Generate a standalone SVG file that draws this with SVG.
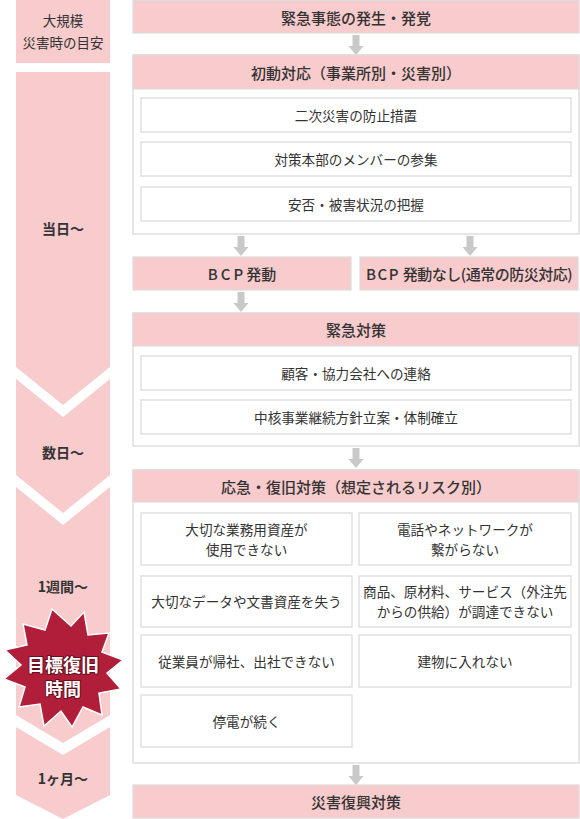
<svg xmlns="http://www.w3.org/2000/svg" width="580" height="819" viewBox="0 0 580 819">
<style>
text{font-family:"Noto Sans CJK JP","Noto Sans",sans-serif;fill:#333;text-anchor:middle;dominant-baseline:central}
.pink{fill:#f8cbcd}
.hdr{fill:#f8cbcd;stroke:#dcdcdc;stroke-width:1.2}
.frame{fill:#fff;stroke:#d6d6d6;stroke-width:1.2}
.item{fill:#fff;stroke:#d9d9d9;stroke-width:1.2}
.ht{font-size:15px;font-weight:500}
.it{font-size:13.6px}
.lt{font-size:14px;font-weight:700}
.arr{fill:#c9c9c9}
</style>
<defs>
<path id="ar" d="M-3.5,0 H3.5 V11 H7.5 L0,20 L-7.5,11 H-3.5 Z"/>
</defs>

<g id="timeline">
<rect class="pink" x="16" y="0" width="94" height="63"/>
<text x="63" y="20" style="font-size:13.5px">大規模</text>
<text x="63" y="42" style="font-size:13.5px">災害時の目安</text>
<path class="pink" d="M16,72 H110 V367 L63,405 L16,367 Z"/>
<text class="lt" x="63" y="228">当日～</text>
<path class="pink" d="M16,379 L63,417 L110,379 V475 L63,513 L16,475 Z"/>
<text class="lt" x="63" y="452">数日～</text>
<path class="pink" d="M16,487 L63,525 L110,487 V715 L63,743 L16,715 Z"/>
<text class="lt" x="63" y="586">1週間～</text>
<path class="pink" d="M16,727 L63,755 L110,727 V795 L63,819 L16,795 Z"/>
<text class="lt" x="63" y="778">1ヶ月～</text>
</g>

<g id="star">
<polygon fill="#b01e3a" stroke="#fff" stroke-width="1.5" points="52,609 71,626 84,612 88,635 109,633 102,652 123,660 107,673 121,689 99,693 102,715 83,707 72,727 61,711 44,726 40,704 19,707 25,687 4,679 21,665 5,650 27,645 23,624 45,630"/>
<text x="63" y="664" style="font-size:18px;font-weight:700;fill:#fff;stroke:#6a0f20;stroke-width:2;paint-order:stroke">目標復旧</text>
<text x="63" y="688" style="font-size:18px;font-weight:700;fill:#fff;stroke:#6a0f20;stroke-width:2;paint-order:stroke">時間</text>
</g>

<g id="connectors">
<use href="#ar" class="arr" x="356" y="35"/>
<use href="#ar" class="arr" x="241" y="236"/>
<use href="#ar" class="arr" x="470" y="236"/>
<use href="#ar" class="arr" x="241" y="292"/>
<use href="#ar" class="arr" x="356" y="448"/>
<use href="#ar" class="arr" x="356" y="765"/>
</g>

<g id="occurrence">
<rect class="hdr" x="133" y="0.6" width="446" height="32.4"/>
<text class="ht" x="356" y="17">緊急事態の発生・発覚</text>
</g>

<g id="initial">
<rect class="frame" x="133" y="55" width="446" height="179"/>
<rect class="hdr" x="133" y="55" width="446" height="34"/>
<text class="ht" x="356" y="72">初動対応（事業所別・災害別）</text>
<rect class="item" x="141" y="98" width="430" height="34"/>
<text class="it" x="356" y="115">二次災害の防止措置</text>
<rect class="item" x="141" y="142" width="430" height="34"/>
<text class="it" x="356" y="159">対策本部のメンバーの参集</text>
<rect class="item" x="141" y="187" width="430" height="34"/>
<text class="it" x="356" y="204">安否・被害状況の把握</text>
</g>

<g id="bcp">
<rect class="hdr" x="133" y="257" width="218" height="33"/>
<text class="ht" x="242" y="273"><tspan letter-spacing="3">BCP</tspan>発動</text>
</g>

<g id="nobcp">
<rect class="hdr" x="360" y="257" width="218" height="33"/>
<text class="ht" x="469" y="273" style="letter-spacing:-0.5px"><tspan letter-spacing="1.5">BCP</tspan> 発動なし(通常の防災対応)</text>
</g>

<g id="emergency">
<rect class="frame" x="133" y="313" width="446" height="133"/>
<rect class="hdr" x="133" y="313" width="446" height="33"/>
<text class="ht" x="356" y="329">緊急対策</text>
<rect class="item" x="141" y="356" width="430" height="34"/>
<text class="it" x="356" y="373">顧客・協力会社への連絡</text>
<rect class="item" x="141" y="400" width="430" height="34"/>
<text class="it" x="356" y="417">中核事業継続方針立案・体制確立</text>
</g>

<g id="recovery">
<rect class="frame" x="133" y="470" width="446" height="293"/>
<rect class="hdr" x="133" y="470" width="446" height="32"/>
<text class="ht" x="356" y="486">応急・復旧対策（想定されるリスク別）</text>
<rect class="item" x="141" y="513" width="211" height="52"/>
<text class="it" x="246.5" y="529">大切な業務用資産が</text>
<text class="it" x="246.5" y="549">使用できない</text>
<rect class="item" x="359" y="513" width="212" height="52"/>
<text class="it" x="465" y="529">電話やネットワークが</text>
<text class="it" x="465" y="549">繋がらない</text>
<rect class="item" x="141" y="576" width="211" height="51"/>
<text class="it" x="246.5" y="601">大切なデータや文書資産を失う</text>
<rect class="item" x="359" y="576" width="212" height="51"/>
<text class="it" x="465" y="591">商品、原材料、サービス（外注先</text>
<text class="it" x="465" y="611">からの供給）が調達できない</text>
<rect class="item" x="141" y="635" width="211" height="52"/>
<text class="it" x="246.5" y="661">従業員が帰社、出社できない</text>
<rect class="item" x="359" y="635" width="212" height="52"/>
<text class="it" x="465" y="661">建物に入れない</text>
<rect class="item" x="141" y="695" width="211" height="52"/>
<text class="it" x="246.5" y="721">停電が続く</text>
</g>

<g id="reconstruction">
<rect class="hdr" x="133" y="785" width="446" height="33"/>
<text class="ht" x="356" y="801">災害復興対策</text>
</g>
</svg>
